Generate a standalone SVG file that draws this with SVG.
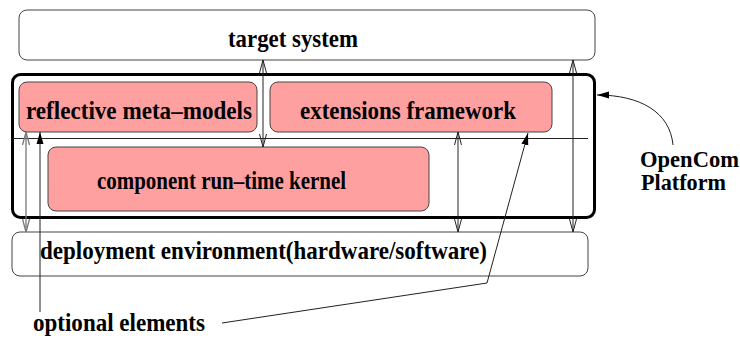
<svg xmlns="http://www.w3.org/2000/svg" width="740" height="338" viewBox="0 0 740 338">
<style>
text{font-family:"Liberation Serif","Times New Roman",serif;font-weight:bold;font-size:25px;fill:#000}
.lbl{font-size:23px}
.box{fill:#fff;stroke:#444;stroke-width:1}
.pink{fill:#ffa0a0;stroke:#444;stroke-width:1}
.plat{fill:none;stroke:#000;stroke-width:3}
.ln{fill:none;stroke:#222;stroke-width:1}
.gr{fill:none;stroke:#777;stroke-width:1.3}
</style>
<defs>
<marker id="open" markerUnits="userSpaceOnUse" viewBox="0 0 13 8" refX="13" refY="4" markerWidth="13" markerHeight="8" orient="auto-start-reverse">
<path d="M0,0.5 L13,4 L0,7.5" fill="none" stroke="#222" stroke-width="1"/>
</marker>
<marker id="openg" markerUnits="userSpaceOnUse" viewBox="0 0 13 8" refX="13" refY="4" markerWidth="13" markerHeight="8" orient="auto-start-reverse">
<path d="M0,0.5 L13,4 L0,7.5" fill="none" stroke="#777" stroke-width="1.3"/>
</marker>
<marker id="fill" markerUnits="userSpaceOnUse" viewBox="0 0 12 8" refX="12" refY="4" markerWidth="12" markerHeight="8" orient="auto">
<path d="M0,0.5 L12,4 L0,7.5 Z" fill="#000"/>
</marker>
</defs>
<g id="target-system">
<rect class="box" x="19" y="10" width="576" height="50" rx="8"/>
<text x="228" y="47" textLength="130" lengthAdjust="spacingAndGlyphs">target system</text>
</g>
<g id="opencom-platform">
<rect class="plat" x="12.5" y="74.5" width="582" height="143" rx="8"/>
<line class="ln" x1="13" y1="138.5" x2="588" y2="138.5"/>
</g>
<g id="reflective-meta-models">
<rect class="pink" x="19" y="82" width="238" height="50" rx="8"/>
<text x="26" y="119" textLength="226" lengthAdjust="spacingAndGlyphs">reflective meta–models</text>
</g>
<g id="extensions-framework">
<rect class="pink" x="270" y="82" width="282" height="50" rx="8"/>
<text x="300" y="119" textLength="216" lengthAdjust="spacingAndGlyphs">extensions framework</text>
</g>
<g id="component-runtime-kernel">
<rect class="pink" x="48" y="147" width="381" height="64" rx="8"/>
<text x="97" y="189" textLength="249" lengthAdjust="spacingAndGlyphs">component run–time kernel</text>
</g>
<g id="deployment-environment">
<rect class="box" x="12" y="232" width="576" height="44" rx="8"/>
<text x="40" y="259" textLength="447" lengthAdjust="spacingAndGlyphs">deployment environment(hardware/software)</text>
</g>
<g id="opencom-label">
<text class="lbl" x="640" y="167" textLength="99" lengthAdjust="spacingAndGlyphs">OpenCom</text>
<text class="lbl" x="641" y="190" textLength="85" lengthAdjust="spacingAndGlyphs">Platform</text>
</g>
<g id="optional-label">
<text x="33" y="331" textLength="172" lengthAdjust="spacingAndGlyphs">optional elements</text>
</g>
<g id="connectors">
<line class="ln" x1="263" y1="60" x2="263" y2="147" marker-start="url(#open)" marker-end="url(#open)"/>
<line class="ln" x1="573" y1="60" x2="573" y2="232" marker-start="url(#open)" marker-end="url(#open)"/>
<line class="ln" x1="458" y1="132" x2="458" y2="232" marker-start="url(#open)" marker-end="url(#open)"/>
<line class="gr" x1="26" y1="132" x2="26" y2="232" marker-start="url(#openg)" marker-end="url(#openg)"/>
<line class="ln" x1="40" y1="312" x2="40" y2="132" marker-end="url(#fill)"/>
<polyline class="ln" points="222,323 487,283 528,133" marker-end="url(#fill)"/>
<path class="ln" d="M673,145 C670,112 640,95 597,95" marker-end="url(#fill)"/>
</g>
</svg>
